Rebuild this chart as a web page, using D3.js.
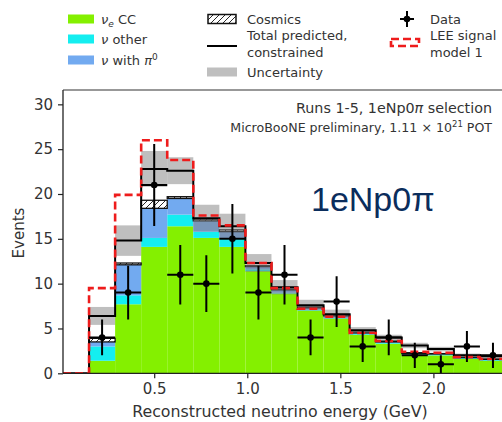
<!DOCTYPE html>
<html><head><meta charset="utf-8">
<script src="https://cdn.jsdelivr.net/npm/d3@7"></script>
<style>body{margin:0;background:#fff}svg{display:block}</style>
</head><body><svg id="c" width="502" height="422" font-family="DejaVu Sans, sans-serif"></svg>
<script>
// ---- data ----
const binEdges = [0.01,0.15,0.29,0.43,0.57,0.71,0.85,0.99,1.13,1.27,1.41,1.55,1.69,1.83,1.97,2.11,2.25,2.39];
const nueCC     = [0,1.4,7.7,14.1,16.4,15.1,14.1,11.4,8.9,7.0,6.1,4.3,3.3,2.0,2.0,1.6,1.4];
const nuOther   = [0,1.6,1.0,1.0,1.3,0.7,0.9,0.2,0.1,0.1,0.1,0.1,0.1,0.1,0.1,0.1,0.1];
const nuPi0     = [0,0.5,3.4,3.3,1.8,1.2,0.8,0.3,0.3,0.2,0.2,0.1,0.1,0.1,0.05,0.05,0.05];
const cosmics   = [0,0.4,0.2,0.9,0.2,0.2,0.2,0.1,0.1,0.1,0.1,0.1,0.1,0.1,0.05,0.05,0.05];
const constrained = [0,6.4,14.8,22.8,22.6,17.3,16.4,12.3,9.6,7.6,6.6,4.8,4.0,3.1,2.7,2.0,1.9];
const uncertainty = [0,1.0,1.7,2.0,1.5,1.5,1.4,1.0,0.8,0.6,0.5,0.35,0.3,0.3,0.25,0.2,0.2];
const leeModel1   = [0,9.5,19.9,26.0,23.8,17.6,16.5,12.3,9.5,7.2,6.3,4.5,3.6,2.4,2.3,1.8,1.6];
const dataCounts  = [null,4,9,21,11,10,15,9,11,4,8,3,4,2,1,3,2];
const xTicks = [0.5,1.0,1.5,2.0];
const yTicks = [0,5,10,15,20,25,30];

const svg = d3.select("#c");
const x = d3.scaleLinear().domain([0.01,2.39]).range([63,506]);
const y = d3.scaleLinear().domain([0,31.6]).range([373.3,90]);
const TXT = "#333";

const defs = svg.append("defs");
const pat = defs.append("pattern").attr("id","hatch").attr("patternUnits","userSpaceOnUse")
  .attr("width",6).attr("height",6);
pat.append("rect").attr("width",6).attr("height",6).attr("fill","#fff");
pat.append("path").attr("d","M-1,1 l2,-2 M0,6 l6,-6 M5,7 l2,-2").attr("stroke","#111").attr("stroke-width",0.9);
defs.append("clipPath").attr("id","plot").append("rect").attr("x",63).attr("y",90).attr("width",443).attr("height",283.3);

const bins = binEdges.slice(0,-1).map((lo,i)=>({i,lo,hi:binEdges[i+1]}));
const g = svg.append("g").attr("clip-path","url(#plot)");

// stacked components
const series = [
  {vals:nueCC,fill:"#84f000"},
  {vals:nuOther,fill:"#14eef0"},
  {vals:nuPi0,fill:"#72aaf0"},
  {vals:cosmics,fill:"url(#hatch)",stroke:"#111"}
];
const cum = bins.map(()=>0);
series.forEach(s=>{
  const rows = bins.map(b=>({b,y0:cum[b.i],y1:cum[b.i]+s.vals[b.i]}));
  rows.forEach(r=>cum[r.b.i]=r.y1);
  g.append("g").selectAll("rect").data(rows.filter(r=>r.y1>r.y0)).join("rect")
    .attr("x",r=>x(r.b.lo)).attr("width",r=>x(r.b.hi)-x(r.b.lo))
    .attr("y",r=>y(r.y1)).attr("height",r=>y(r.y0)-y(r.y1))
    .attr("fill",s.fill).attr("stroke",s.stroke||"none").attr("stroke-width",s.stroke?1.3:0);
});

// uncertainty band
g.append("g").selectAll("rect").data(bins.filter(b=>uncertainty[b.i]>0)).join("rect")
  .attr("x",b=>x(b.lo)).attr("width",b=>x(b.hi)-x(b.lo))
  .attr("y",b=>y(constrained[b.i]+uncertainty[b.i]))
  .attr("height",b=>y(constrained[b.i]-uncertainty[b.i])-y(constrained[b.i]+uncertainty[b.i]))
  .attr("fill","#7f7f7f").attr("fill-opacity",0.5);

const stepPts = vals => bins.map(b=>[b.lo,vals[b.i]]).concat([[binEdges[binEdges.length-1],vals[vals.length-1]]]);
const step = d3.line().x(d=>x(d[0])).y(d=>y(d[1])).curve(d3.curveStepAfter);

g.append("path").attr("d",step(stepPts(constrained))).attr("fill","none").attr("stroke","#000").attr("stroke-width",2);
g.append("path").attr("d",step(stepPts(leeModel1))).attr("fill","none").attr("stroke","#ee1c1c")
  .attr("stroke-width",2.6).attr("stroke-dasharray","8,4");

// data
const dat = bins.filter(b=>dataCounts[b.i]!=null).map(b=>({b,v:dataCounts[b.i],e:Math.sqrt(dataCounts[b.i]),c:(b.lo+b.hi)/2}));
const dg = svg.append("g").attr("clip-path","url(#plot)");
dg.selectAll(".h").data(dat).join("line").attr("x1",d=>x(d.b.lo)).attr("x2",d=>x(d.b.hi))
  .attr("y1",d=>y(d.v)).attr("y2",d=>y(d.v)).attr("stroke","#000").attr("stroke-width",2);
dg.selectAll(".v").data(dat).join("line").attr("x1",d=>x(d.c)).attr("x2",d=>x(d.c))
  .attr("y1",d=>y(d.v-d.e)).attr("y2",d=>y(d.v+d.e)).attr("stroke","#000").attr("stroke-width",2);
dg.selectAll("circle").data(dat).join("circle").attr("cx",d=>x(d.c)).attr("cy",d=>y(d.v)).attr("r",3.3).attr("fill","#000");

// axes
const xAxis = svg.append("g").attr("transform","translate(0,373.3)")
  .call(d3.axisBottom(x).tickValues(xTicks).tickFormat(d3.format(".1f")).tickSize(5).tickPadding(5));
const yAxis = svg.append("g").attr("transform","translate(63,0)")
  .call(d3.axisLeft(y).tickValues(yTicks).tickSize(5).tickPadding(5));
[xAxis,yAxis].forEach(a=>{
  a.attr("font-family","DejaVu Sans, sans-serif").attr("font-size",15);
  a.select(".domain").remove();
  a.selectAll("line").attr("stroke","#222").attr("stroke-width",1.2);
  a.selectAll("text").attr("fill",TXT);
});
svg.append("line").attr("x1",63).attr("x2",506).attr("y1",373.3).attr("y2",373.3).attr("stroke","#222").attr("stroke-width",1.3);
svg.append("line").attr("x1",63).attr("x2",63).attr("y1",90).attr("y2",373.3).attr("stroke","#222").attr("stroke-width",1.3);
svg.append("line").attr("x1",63).attr("x2",506).attr("y1",90).attr("y2",90).attr("stroke","#333").attr("stroke-width",1.2);

svg.append("text").attr("x",280).attr("y",417).attr("text-anchor","middle").attr("font-size",15.8).attr("fill",TXT)
  .text("Reconstructed neutrino energy (GeV)");
svg.append("text").attr("transform","translate(24,233) rotate(-90)").attr("text-anchor","middle").attr("font-size",15).attr("fill",TXT)
  .text("Events");

// annotations
const a1 = svg.append("text").attr("x",492).attr("y",113).attr("text-anchor","end").attr("font-size",14.3).attr("fill",TXT);
a1.append("tspan").text("Runs 1-5, 1eNp0");
a1.append("tspan").attr("font-style","italic").text("π");
a1.append("tspan").text(" selection");
const a2 = svg.append("text").attr("x",492).attr("y",132).attr("text-anchor","end").attr("font-size",12.6).attr("fill",TXT);
a2.append("tspan").text("MicroBooNE preliminary, 1.11 × 10");
a2.append("tspan").attr("font-size",8.5).attr("dy",-5).text("21");
a2.append("tspan").attr("dy",5).text(" POT");

svg.append("text").attr("x",311).attr("y",211).attr("font-family","Liberation Sans, Arial, sans-serif")
  .attr("font-size",34).attr("fill","#0b2d5c").text("1eNp0π");

// legend
const lg = svg.append("g").attr("font-size",13).attr("fill",TXT);
const sw = [{y:19,fill:"#84f000"},{y:39,fill:"#14eef0"},{y:60,fill:"#72aaf0"}];
lg.selectAll(".sw").data(sw).join("rect").attr("x",68).attr("y",d=>d.y-4.5).attr("width",26).attr("height",9).attr("fill",d=>d.fill);
const t1 = lg.append("text").attr("x",101).attr("y",24);
t1.append("tspan").attr("font-style","italic").text("ν");
t1.append("tspan").attr("font-style","italic").attr("font-size",9).attr("dy",3).text("e");
t1.append("tspan").attr("dy",-3).text(" CC");
const t2 = lg.append("text").attr("x",101).attr("y",44);
t2.append("tspan").attr("font-style","italic").text("ν");
t2.append("tspan").text(" other");
const t3 = lg.append("text").attr("x",101).attr("y",65);
t3.append("tspan").attr("font-style","italic").text("ν");
t3.append("tspan").text(" with ");
t3.append("tspan").attr("font-style","italic").text("π");
t3.append("tspan").attr("font-size",9).attr("dy",-5).text("0");

lg.append("rect").attr("x",208).attr("y",14.5).attr("width",28).attr("height",9).attr("fill","url(#hatch)").attr("stroke","#111").attr("stroke-width",1.5);
lg.append("text").attr("x",247).attr("y",24).text("Cosmics");
lg.append("line").attr("x1",207).attr("x2",237).attr("y1",46).attr("y2",46).attr("stroke","#000").attr("stroke-width",2);
lg.append("text").attr("x",247).attr("y",40).text("Total predicted,");
lg.append("text").attr("x",247).attr("y",57).text("constrained");
lg.append("rect").attr("x",207).attr("y",67.5).attr("width",30).attr("height",9).attr("fill","#bfbfbf");
lg.append("text").attr("x",247).attr("y",77).text("Uncertainty");

lg.append("line").attr("x1",400).attr("x2",414).attr("y1",19).attr("y2",19).attr("stroke","#000").attr("stroke-width",2);
lg.append("line").attr("x1",407).attr("x2",407).attr("y1",11).attr("y2",27).attr("stroke","#000").attr("stroke-width",2);
lg.append("circle").attr("cx",407).attr("cy",19).attr("r",3.3).attr("fill","#000");
lg.append("text").attr("x",430).attr("y",24).text("Data");
lg.append("rect").attr("x",391).attr("y",39).attr("width",28).attr("height",7).attr("fill","none")
  .attr("stroke","#ee1c1c").attr("stroke-width",2.6).attr("stroke-dasharray","8,4");
lg.append("text").attr("x",430).attr("y",40).text("LEE signal");
lg.append("text").attr("x",430).attr("y",57).text("model 1");
</script></body></html>
